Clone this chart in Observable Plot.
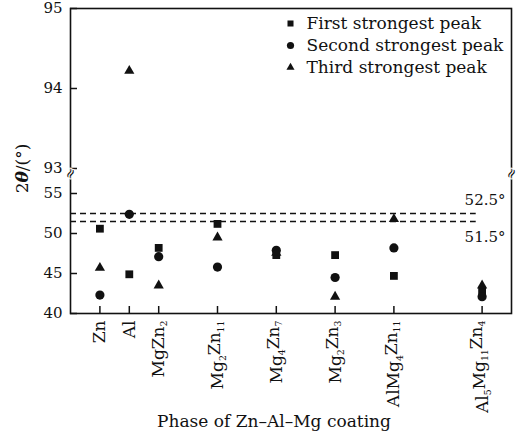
<!DOCTYPE html>
<html><head><meta charset="utf-8">
<script src="https://cdn.jsdelivr.net/npm/d3@7"></script>
<script src="https://cdn.jsdelivr.net/npm/@observablehq/plot@0.6"></script>
<style>body{margin:0;background:#fff;}</style>
</head><body><div id="chart"></div>
<script>
const categories = ["Zn", "Al", "MgZn2", "Mg2Zn11", "Mg4Zn7", "Mg2Zn3", "AlMg4Zn11", "Al5Mg11Zn4"];
const slots = [1, 2, 3, 5, 7, 9, 11, 14];
const firstPeak  = [50.6, 44.9, 48.2, 51.2, 47.3, 47.3, 44.7, 42.8];
const secondPeak = [42.3, 52.4, 47.1, 45.8, 47.9, 44.5, 48.2, 42.1];
const thirdPeak  = [45.7, 94.22, 43.5, 49.5, 47.6, 42.1, 51.8, 43.5];
const seriesNames = ["First strongest peak", "Second strongest peak", "Third strongest peak"];
const symbols = ["square", "circle", "triangle"];
const yTicks = [40, 45, 50, 55, 93, 94, 95];
const refLines = [52.5, 51.5];

const seriesValues = [firstPeak, secondPeak, thirdPeak];
const rows = [];
seriesValues.forEach((vals, s) => vals.forEach((v, i) => rows.push({slot: slots[i], value: v, series: seriesNames[s]})));

const ink = "#111";
const dotR = {"square": 4.4, "circle": 4.6, "triangle": 3.8};
const legR = {"square": 3.4, "circle": 3.6, "triangle": 3.0};

const marks = [
  Plot.ruleY(refLines, {y: d => d, x1: 0, x2: 13.8, stroke: ink, strokeWidth: 1.4, strokeDasharray: "6,4"}),
  Plot.frame({stroke: ink, strokeWidth: 1.6}),
  Plot.axisY({ticks: yTicks, tickFormat: d => String(d), tickSize: 0, tickPadding: 8, label: null, fontSize: 15, fill: ink}),
  Plot.axisY({ticks: yTicks, tickFormat: () => "", tickSize: 7, dx: 7, label: null, stroke: ink, strokeWidth: 1.5}),
  Plot.axisX({ticks: slots, tickFormat: d => categories[slots.indexOf(d)], tickRotate: -90, tickSize: 0, tickPadding: 7, label: null, fontSize: 17, fill: ink}),
  Plot.axisX({ticks: slots, tickFormat: () => "", tickSize: 7, dy: -7, label: null, stroke: ink, strokeWidth: 1.5}),
  ...seriesNames.map((name, s) => Plot.dot(rows.filter(r => r.series === name), {x: "slot", y: "value", symbol: () => symbols[s], fill: ink, r: dotR[symbols[s]]})),
  ...seriesNames.map((name, s) => Plot.dot([name], {frameAnchor: "top-left", dx: 220, dy: 15 + 22 * s, symbol: () => symbols[s], fill: ink, r: legR[symbols[s]]})),
  ...seriesNames.map((name, s) => Plot.text([name], {frameAnchor: "top-left", dx: 236, dy: 15 + 22 * s, text: d => d, textAnchor: "start", lineAnchor: "middle", fontSize: 17, fill: ink})),
  Plot.text([refLines[0]], {x: 15, y: d => d, text: d => d + "°", textAnchor: "end", dx: -6, dy: -13, fontSize: 15, fill: ink}),
  Plot.text([refLines[1]], {x: 15, y: d => d, text: d => d + "°", textAnchor: "end", dx: -6, dy: 16, fontSize: 15, fill: ink}),
  Plot.text([0, 15], {x: d => d, y: 85.4, text: () => "≈", rotate: -65, fontSize: 14, fill: ink, stroke: "#fff", strokeWidth: 2, paintOrder: "stroke"}),
  Plot.text(["2θ/(°)"], {frameAnchor: "left", dx: -48, dy: 7.5, rotate: -90, text: d => d, textAnchor: "middle", lineAnchor: "middle", fontSize: 17, fill: ink}),
  Plot.text(["Phase of Zn–Al–Mg coating"], {frameAnchor: "bottom", dx: -17, dy: 113, text: d => d, fontSize: 17, fill: ink})
];

const plot = Plot.plot({
  width: 522, height: 436,
  marginLeft: 70, marginRight: 11, marginTop: 8, marginBottom: 123,
  style: {fontFamily: "'DejaVu Serif', serif", fontSize: "15px", color: ink, background: "#fff"},
  x: {type: "linear", domain: [0, 15]},
  y: {type: "linear", domain: [40, 55, 93, 95], range: [313, 193, 168, 8]},
  marks
});
document.getElementById("chart").appendChild(plot);

// subscripts in phase names
d3.select(plot).selectAll('g[aria-label="x-axis tick label"] text').each(function() {
  const t = d3.select(this);
  const s = t.text();
  if (!s) return;
  t.text(null);
  const parts = s.split(/(\d+)/).filter(p => p.length);
  let shifted = false;
  parts.forEach(p => {
    const isSub = /^\d+$/.test(p);
    const sp = t.append("tspan").text(p);
    if (isSub) { sp.attr("font-size", "0.55em").attr("dy", "0.35em"); shifted = true; }
    else if (shifted) { sp.attr("dy", "-0.35em"); shifted = false; }
  });
});
// bold italic theta in y label
d3.select(plot).selectAll("text").filter(function() { return d3.select(this).text() === "2θ/(°)"; }).each(function() {
  const t = d3.select(this);
  t.text(null);
  t.append("tspan").text("2");
  t.append("tspan").text("θ").attr("font-style", "italic").attr("font-weight", "bold");
  t.append("tspan").text("/(°)");
});
</script>
</body></html>
